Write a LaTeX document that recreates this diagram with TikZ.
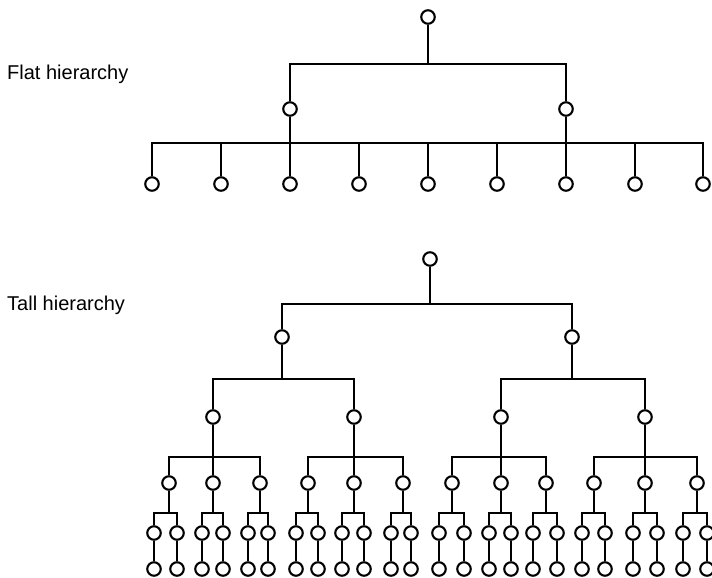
\documentclass[tikz,border=0pt]{standalone}
\usepackage{fontspec}
\setmainfont{Liberation Sans}
\begin{document}
\begin{tikzpicture}[x=1pt,y=-1pt,
  unit/.style={circle,draw,line width=2.1pt,minimum size=13.5pt,inner sep=0pt,fill=white},
  link/.style={line width=2.1pt},
  caption/.style={anchor=base west,inner sep=0pt,font=\fontsize{20}{24}\selectfont}]
\useasboundingbox (0,0) rectangle (712,578);
\begin{scope}
\clip (0,0) rectangle (712,578);

% ---------------- flat hierarchy ----------------
\node[caption] (flatlabel) at (7,79) {Flat hierarchy};
\node[unit] (f) at (428,17) {};
\coordinate (fbar) at (428,64);
\node[unit] (fa) at (290,109) {};
\node[unit] (fb) at (566,109) {};
\draw[link] (f) -- (fbar);
\draw[link] (fbar) -| (fa);
\draw[link] (fbar) -| (fb);
\coordinate (fabar) at (290,143);
\coordinate (fbbar) at (566,143);
\draw[link] (fa) -- (fabar);
\draw[link] (fb) -- (fbbar);
\foreach \i/\x in {1/152,2/221,3/290,4/359,5/428,6/497,7/566,8/635,9/703}{
  \node[unit] (fl\i) at (\x,184) {};
}
\foreach \i in {1,2,3,4}{ \draw[link] (fabar) -| (fl\i); }
\draw[link] (fabar) -- (fl3);
\foreach \i in {5,6,7,8,9}{ \draw[link] (fabar) -| (fl\i); }

% ---------------- tall hierarchy ----------------
\node[caption] (talllabel) at (7,310) {Tall hierarchy};
\node[unit] (t) at (430,259) {};
\coordinate (tbar) at (430,304);
\draw[link] (t) -- (tbar);
\foreach \i/\x in {1/282,2/572}{
  \node[unit] (t\i) at (\x,337) {};
  \draw[link] (tbar) -| (t\i);
}
% second level
\foreach \p/\px/\a/\ax/\b/\bx in {1/282/1/213/2/354, 2/572/3/501/4/645}{
  \coordinate (tb\p) at (\px,379);
  \draw[link] (t\p) -- (tb\p);
  \node[unit] (u\a) at (\ax,417) {};
  \node[unit] (u\b) at (\bx,417) {};
  \draw[link] (tb\p) -| (u\a);
  \draw[link] (tb\p) -| (u\b);
}
% third level: three units under each second-level unit
\foreach \p/\px/\a/\ax/\b/\c/\cx in {
  1/213/1/169/2/3/260,
  2/354/4/308/5/6/403,
  3/501/7/452/8/9/546,
  4/645/10/594/11/12/697}{
  \coordinate (ub\p) at (\px,457);
  \draw[link] (u\p) -- (ub\p);
  \node[unit] (v\a) at (\ax,483) {};
  \node[unit] (v\b) at (\px,483) {};
  \node[unit] (v\c) at (\cx,483) {};
  \draw[link] (ub\p) -| (v\a);
  \draw[link] (ub\p) -- (v\b);
  \draw[link] (ub\p) -| (v\c);
}
% fourth level: pairs, each with one unit below
\foreach \p/\px/\lx/\rx in {
  1/169/154/177, 2/213/202/223, 3/260/248/268,
  4/308/296/318, 5/354/342/364, 6/403/391/411,
  7/452/439/464, 8/501/489/511, 9/546/533/557,
  10/594/582/605, 11/645/633/657, 12/697/683/707}{
  \coordinate (vb\p) at (\px,513);
  \draw[link] (v\p) -- (vb\p);
  \node[unit] (wl\p) at (\lx,533) {};
  \node[unit] (wr\p) at (\rx,533) {};
  \draw[link] (vb\p) -| (wl\p);
  \draw[link] (vb\p) -| (wr\p);
  \node[unit] (xl\p) at (\lx,569) {};
  \node[unit] (xr\p) at (\rx,569) {};
  \draw[link] (wl\p) -- (xl\p);
  \draw[link] (wr\p) -- (xr\p);
}
\end{scope}
\end{tikzpicture}
\end{document}
